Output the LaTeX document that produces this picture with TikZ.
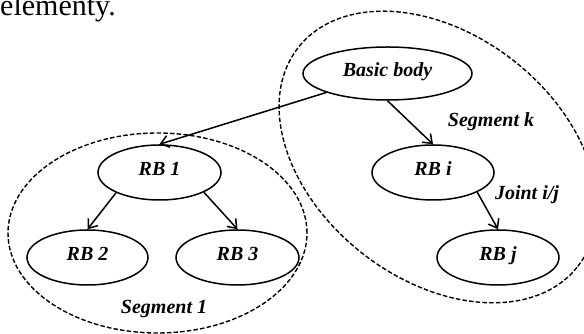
\documentclass[tikz,border=0pt]{standalone}
\usepackage{fontspec}
\setmainfont{Liberation Serif}
\usetikzlibrary{shapes.geometric,arrows.meta}
\begin{document}
\begin{tikzpicture}[x=1pt,y=1pt,
  body/.style={draw, line width=1.5pt, ellipse, inner sep=0pt,
    font=\fontsize{20}{20}\selectfont\bfseries\itshape,
    text height=0.662em, text depth=0pt},
  seg/.style={draw, line width=1.4pt, dash pattern=on 4.5pt off 2.2pt, ellipse, inner sep=0pt},
  lbl/.style={font=\fontsize{20}{20}\selectfont\bfseries\itshape, inner sep=0pt, anchor=base},
  conn/.style={line width=1.5pt, -{Straight Barb[length=8pt,width=12pt]}}]
\useasboundingbox (0,0) rectangle (584,334);
\node[anchor=base west, inner sep=0pt, font=\fontsize{30}{30}\selectfont] (cap) at (0,318) {elementy.};
% groups
\node[seg, minimum width=299pt, minimum height=200pt] (seg1) at (157.5,101) {};
\node[seg, minimum width=355pt, minimum height=245pt, rotate=-38] (segk) at (438,177) {};
% bodies
\node[body, minimum width=169pt, minimum height=53pt] (bb) at (387.5,260.5) {Basic body};
\node[body, minimum width=122pt, minimum height=55pt] (rbi) at (433,161.5) {RB i};
\node[body, minimum width=122pt, minimum height=55pt] (rbj) at (498,76.5) {RB j};
\node[body, minimum width=123pt, minimum height=55pt] (rb1) at (159.5,161.5) {RB 1};
\node[body, minimum width=121pt, minimum height=55pt] (rb2) at (87.5,76.5) {RB 2};
\node[body, minimum width=123pt, minimum height=55pt] (rb3) at (237.5,76.5) {RB 3};
% labels
\node[lbl] (lk) at (491,207) {Segment k};
\node[lbl] (lj) at (527,134) {Joint i/j};
\node[lbl] (l1) at (164,20) {Segment 1};
% connectors
\draw[conn] (bb) -- (rb1.north);
\draw[conn] (bb.south) -- (rbi.north);
\draw[conn] (rb1.205) -- (rb2.north);
\draw[conn] (rb1.336) -- (rb3.north);
\draw[conn] (rbi.336) -- (rbj.north);
\end{tikzpicture}
\end{document}
